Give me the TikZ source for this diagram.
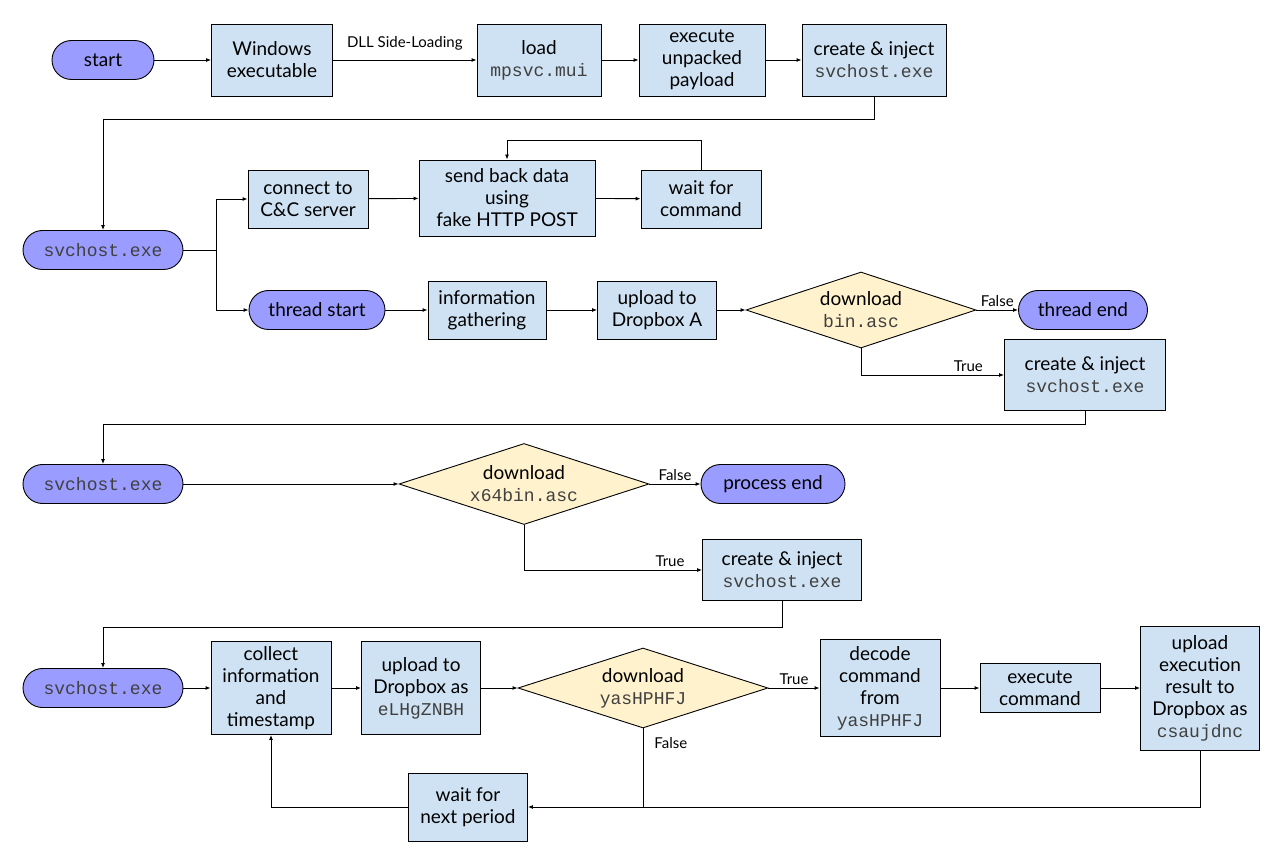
\documentclass[tikz,border=0pt]{standalone}
\usepackage{fontspec}
\setmainfont{Lato}
\setmonofont{Liberation Mono}
\usetikzlibrary{shapes.geometric,shapes.misc,arrows.meta}

\definecolor{boxblue}{HTML}{CFE2F3}
\definecolor{pillblue}{HTML}{9A9CFF}
\definecolor{diayellow}{HTML}{FFF2CC}
\definecolor{codegray}{HTML}{404040}

\newcommand{\code}[1]{{\ttfamily\fontsize{18}{22}\selectfont\color{codegray}#1}}

\begin{document}
\begin{tikzpicture}[x=1pt,y=-1pt,
	every node/.style={font=\fontsize{19}{22}\selectfont,align=center,inner sep=0pt},
	box/.style={draw,fill=boxblue,line width=0.9pt},
	pill/.style={draw,fill=pillblue,rounded rectangle,line width=0.9pt,minimum height=39},
	decision/.style={draw,fill=diayellow,diamond,aspect=3,line width=0.9pt},
	lbl/.style={font=\fontsize{15}{17}\selectfont,draw=none,fill=none},
	arr/.style={-{Latex[length=5pt,width=4pt]},line width=0.9pt},
	line/.style={line width=0.9pt}]

	\useasboundingbox (0,0) rectangle (1283,858);

	\def\rowA{60}
	\def\rowB{250}
	\def\rowC{484}
	\def\rowD{688}

	% stage one
	\node[pill,minimum width=102] (start) at (103,\rowA) {start};
	\node[box,minimum width=121,minimum height=72] (win) at (272,\rowA) {Windows\\executable};
	\node[box,minimum width=124,minimum height=72] (load) at (539,\rowA) {load\\\code{mpsvc.mui}};
	\node[box,minimum width=126,minimum height=72] (unpack) at (702,\rowA) {execute\\unpacked\\payload};
	\node[box,minimum width=144,minimum height=72] (injectA) at (874,\rowA) {create \& inject\\\code{svchost.exe}};

	\draw[arr] (start.east) -- (win.west);
	\draw[arr] (win) -- node[lbl,above=9pt] {DLL Side-Loading} (load);
	\draw[arr] (load) -- (unpack);
	\draw[arr] (unpack) -- (injectA);

	% stage two
	\node[pill,minimum width=160] (svcA) at (103,\rowB) {\code{svchost.exe}};
	\node[box,minimum width=120,minimum height=58] (connect) at (308,199) {connect to\\C\&C server};
	\node[box,minimum width=176,minimum height=76] (send) at (507,198) {send back data\\using\\fake HTTP POST};
	\node[box,minimum width=120,minimum height=58] (waitcmd) at (701,199) {wait for\\command};
	\node[pill,minimum width=136] (tstart) at (317,310) {thread start};
	\node[box,minimum width=118,minimum height=58] (gather) at (487,310) {information\\gathering};
	\node[box,minimum width=119,minimum height=58] (upA) at (657,310) {upload to\\Dropbox A};
	\node[decision,minimum width=230,minimum height=76] (dlbin) at (861,310) {download\\\code{bin.asc}};
	\node[pill,minimum width=129] (tend) at (1083,310) {thread end};
	\node[box,minimum width=161,minimum height=71] (injectB) at (1085,375) {create \& inject\\\code{svchost.exe}};
	\coordinate (forkA) at (216,\rowB);

	\draw[arr] (injectA.south) -- ++(0,23) -| (svcA.north);
	\draw[line] (svcA.east) -- (forkA);
	\draw[arr] (forkA) |- (connect.west);
	\draw[arr] (forkA) |- (tstart.west);
	\draw[arr] (connect) -- (send);
	\draw[arr] (send) -- (waitcmd);
	\draw[arr] (waitcmd.north) -- ++(0,-29) -| (send.north);
	\draw[arr] (tstart.east) -- (gather.west);
	\draw[arr] (gather) -- (upA);
	\draw[arr] (upA) -- (dlbin);
	\draw[arr] (dlbin) -- node[lbl,above=3pt] {False} (tend);
	\draw[arr] (dlbin.south) |- node[lbl,pos=0.875,above=3pt] {True} (injectB.west);

	% stage three
	\node[pill,minimum width=160] (svcB) at (103,\rowC) {\code{svchost.exe}};
	\node[decision,minimum width=250,minimum height=81] (dlx) at (524,\rowC) {download\\\code{x64bin.asc}};
	\node[pill,minimum width=144] (pend) at (773,\rowC) {process end};
	\node[box,minimum width=159,minimum height=61] (injectC) at (782,570) {create \& inject\\\code{svchost.exe}};

	\draw[arr] (injectB.south) -- ++(0,14) -| (svcB.north);
	\draw[arr] (svcB.east) -- (dlx.west);
	\draw[arr] (dlx) -- node[lbl,above=3pt] {False} (pend);
	\draw[arr] (dlx.south) |- node[lbl,pos=0.91,above=3pt] {True} (injectC.west);

	% stage four
	\node[pill,minimum width=160] (svcC) at (103,\rowD) {\code{svchost.exe}};
	\node[box,minimum width=120,minimum height=93] (collect) at (271,\rowD) {collect\\information\\and\\timestamp};
	\node[box,minimum width=119,minimum height=93] (upEL) at (421,\rowD) {upload to\\Dropbox as\\\code{eLHgZNBH}};
	\node[decision,minimum width=250,minimum height=80] (dlyas) at (643,\rowD) {download\\\code{yasHPHFJ}};
	\node[box,minimum width=120,minimum height=97] (decode) at (880,\rowD) {decode\\command\\from\\\code{yasHPHFJ}};
	\node[box,minimum width=120,minimum height=49] (execcmd) at (1040,\rowD) {execute\\command};
	\node[box,minimum width=119,minimum height=124] (upres) at (1200,\rowD) {upload\\execution\\result to\\Dropbox as\\\code{csaujdnc}};
	\node[box,minimum width=119,minimum height=68] (waitnext) at (468,807) {wait for\\next period};

	\draw[arr] (injectC.south) -- ++(0,26) -| (svcC.north);
	\draw[arr] (svcC.east) -- (collect.west);
	\draw[arr] (collect) -- (upEL);
	\draw[arr] (upEL) -- (dlyas);
	\draw[arr] (dlyas) -- node[lbl,above=3pt] {True} (decode);
	\draw[arr] (decode) -- (execcmd);
	\draw[arr] (execcmd) -- (upres);
	\draw[arr] (upres.south) |- (waitnext.east);
	\draw[line] (dlyas.south) -- node[lbl,pos=0.19,right=11pt] {False} (dlyas.south |- waitnext.east);
	\draw[arr] (waitnext.west) -| (collect.south);

\end{tikzpicture}
\end{document}
